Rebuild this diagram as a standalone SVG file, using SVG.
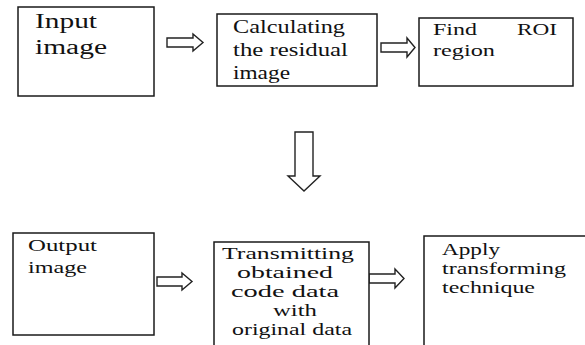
<svg xmlns="http://www.w3.org/2000/svg" width="585" height="345" viewBox="0 0 585 345">
<style>
.box{fill:#fff;stroke:#1a1a1a;stroke-width:1.5}
.arr{fill:#fff;stroke:#222;stroke-width:1.4;stroke-linejoin:miter}
text{font-family:"Liberation Serif","Times New Roman",serif;fill:#111}
.t20{font-size:20px}
.t18{font-size:18px}
.t17{font-size:17px}
</style>
<rect width="585" height="345" fill="#fff"/>
<g id="connectors">
<polygon class="arr" points="167,38 193,38 193,34 203,42.5 193,51 193,47 167,47"/>
<polygon class="arr" points="381,43 407,43 407,38 415,47.5 407,57 407,52 381,52"/>
<polygon class="arr" points="295,132 313,132 313,176 320,176 304,191 288,176 295,176"/>
<polygon class="arr" points="157,277 182,277 182,273 192,281.5 182,290 182,286 157,286"/>
<polygon class="arr" points="369,274 395,274 395,269 404,278.5 395,288 395,283 369,283"/>
</g>
<g id="input-image">
<rect class="box" x="18" y="7" width="136" height="89"/>
<text class="t20" x="35" y="28" textLength="62" lengthAdjust="spacingAndGlyphs">Input</text>
<text class="t20" x="35" y="54" textLength="72" lengthAdjust="spacingAndGlyphs">image</text>
</g>
<g id="residual">
<rect class="box" x="217" y="14" width="160" height="72"/>
<text class="t18" x="233" y="33" textLength="112" lengthAdjust="spacingAndGlyphs">Calculating</text>
<text class="t18" x="233" y="56" textLength="115" lengthAdjust="spacingAndGlyphs">the residual</text>
<text class="t18" x="233" y="79" textLength="57" lengthAdjust="spacingAndGlyphs">image</text>
</g>
<g id="roi">
<rect class="box" x="419" y="18" width="154" height="68"/>
<text class="t17" x="433" y="35" textLength="44" lengthAdjust="spacingAndGlyphs">Find</text>
<text class="t17" x="517" y="35" textLength="40" lengthAdjust="spacingAndGlyphs">ROI</text>
<text class="t17" x="433" y="56" textLength="62" lengthAdjust="spacingAndGlyphs">region</text>
</g>
<g id="output-image">
<rect class="box" x="13" y="233" width="141" height="102"/>
<text class="t17" x="28" y="251" textLength="69" lengthAdjust="spacingAndGlyphs">Output</text>
<text class="t17" x="28" y="273" textLength="59" lengthAdjust="spacingAndGlyphs">image</text>
</g>
<g id="transmitting">
<rect class="box" x="214" y="242" width="155" height="110"/>
<text class="t17" x="222" y="259" textLength="132" lengthAdjust="spacingAndGlyphs">Transmitting</text>
<text class="t17" x="237" y="278" textLength="96" lengthAdjust="spacingAndGlyphs">obtained</text>
<text class="t17" x="231" y="297" textLength="108" lengthAdjust="spacingAndGlyphs">code data</text>
<text class="t17" x="273" y="316" textLength="44" lengthAdjust="spacingAndGlyphs">with</text>
<text class="t17" x="232" y="335" textLength="120" lengthAdjust="spacingAndGlyphs">original data</text>
</g>
<g id="transforming">
<rect class="box" x="424" y="236" width="180" height="120"/>
<text class="t17" x="442" y="255" textLength="58" lengthAdjust="spacingAndGlyphs">Apply</text>
<text class="t17" x="442" y="274" textLength="124" lengthAdjust="spacingAndGlyphs">transforming</text>
<text class="t17" x="442" y="293" textLength="93" lengthAdjust="spacingAndGlyphs">technique</text>
</g>
</svg>
